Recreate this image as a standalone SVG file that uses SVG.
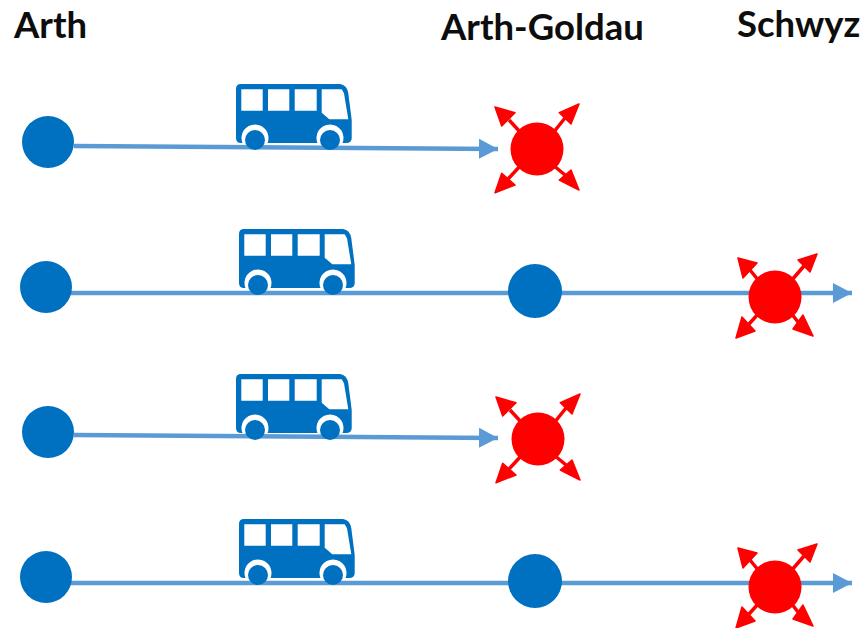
<svg xmlns="http://www.w3.org/2000/svg" width="864" height="628" viewBox="0 0 864 628">
<style>
.lbl{font-family:"Lato","Open Sans",sans-serif;font-weight:700;font-size:36.500px;fill:#0d0d0d}
.stop{fill:#0070c0}
.hot{fill:#fe0000}
.tip{fill:#fe0000;stroke:#fe0000;stroke-width:1.500;stroke-linejoin:round}
.line{stroke:#5b9bd5;stroke-width:4.500;fill:none;marker-end:url(#blueHead)}
.ray{stroke:#fe0000;stroke-width:3.500;fill:none}
</style>
<defs>
<marker id="blueHead" markerUnits="userSpaceOnUse" markerWidth="24" markerHeight="24" refX="19" refY="12" orient="auto"><path d="M0 2L19 12L0 22Z" fill="#5b9bd5"/></marker>
<g id="bus">
<path d="M5 0H104Q111 1 112.300 9.300L115.700 36V54Q115.700 59 110 59H5Q0 59 0 54V5Q0 0 5 0Z" fill="#0070c0"/>
<path d="M5.300 5.300H26.700V26.700H5.300ZM32 5.300H53.300V26.700H32ZM58.700 5.300H80.700V26.700H58.700ZM85.700 5.300H105.700L108 9.300L112.300 35.300H93.300L85.700 28.700Z" fill="#fff"/>
<path d="M6.500 59A13.500 13.500 0 1 1 31.500 59ZM81.500 59A13.500 13.500 0 1 1 106.500 59Z" fill="#fff"/>
<circle cx="19" cy="56" r="10" fill="#0070c0"/><circle cx="94" cy="56" r="10" fill="#0070c0"/>
</g>
<g id="burstA">
<circle class="hot" r="26.500"/>
<path class="ray" d="M-16 -16L-28 -29M16 -16L28 -31M-16 16L-29 30M16 16L28 26"/>
<path class="tip" d="M42 -45L22.300 -36.300L34 -25ZM-42 -42L-22 -36.300L-35.300 -23ZM-42 43.700L-35.300 24.300L-22 36ZM42 41L22.300 31L34 21Z"/>
</g>
<g id="burstB">
<circle class="hot" r="26.500"/>
<path class="ray" d="M-16 -16L-25 -27M16 -16L29 -31M-16 16L-26 27M16 16L23 25"/>
<path class="tip" d="M42 -43L23 -37L35 -25ZM-37 -39L-18 -34L-32 -19ZM-39 41L-33 20L-20 34ZM38 39L28 18L18 32Z"/>
</g>
</defs>
<rect width="864" height="628" fill="#fff"/>
<g id="labels">
<text id="label-arth" class="lbl" x="14" y="38">Arth</text>
<text id="label-goldau" class="lbl" x="441" y="40">Arth-Goldau</text>
<text id="label-schwyz" class="lbl" x="737" y="37">Schwyz</text>
</g>
<g id="connectors">
<line class="line" x1="74" y1="146" x2="498" y2="149"/>
<line class="line" x1="46" y1="293" x2="852" y2="293"/>
<line class="line" x1="74" y1="435" x2="498" y2="438"/>
<line class="line" x1="46" y1="583" x2="852" y2="583"/>
</g>
<g id="row1-start"><circle class="stop" cx="48" cy="142" r="26"/></g>
<g id="row1-bus"><use href="#bus" x="236" y="84"/></g>
<g id="row1-burst"><use href="#burstA" x="537" y="149"/></g>
<g id="row2-start"><circle class="stop" cx="46" cy="287" r="26"/></g>
<g id="row2-bus"><use href="#bus" x="239" y="229"/></g>
<g id="row2-mid"><circle class="stop" cx="535" cy="291" r="27"/></g>
<g id="row2-burst"><use href="#burstB" x="775" y="297"/></g>
<g id="row3-start"><circle class="stop" cx="48" cy="432" r="26"/></g>
<g id="row3-bus"><use href="#bus" x="236" y="374"/></g>
<g id="row3-burst"><use href="#burstA" x="538" y="439"/></g>
<g id="row4-start"><circle class="stop" cx="46" cy="577" r="26"/></g>
<g id="row4-bus"><use href="#bus" x="239" y="519"/></g>
<g id="row4-mid"><circle class="stop" cx="535" cy="581" r="27"/></g>
<g id="row4-burst"><use href="#burstB" x="775" y="587"/></g>
</svg>
